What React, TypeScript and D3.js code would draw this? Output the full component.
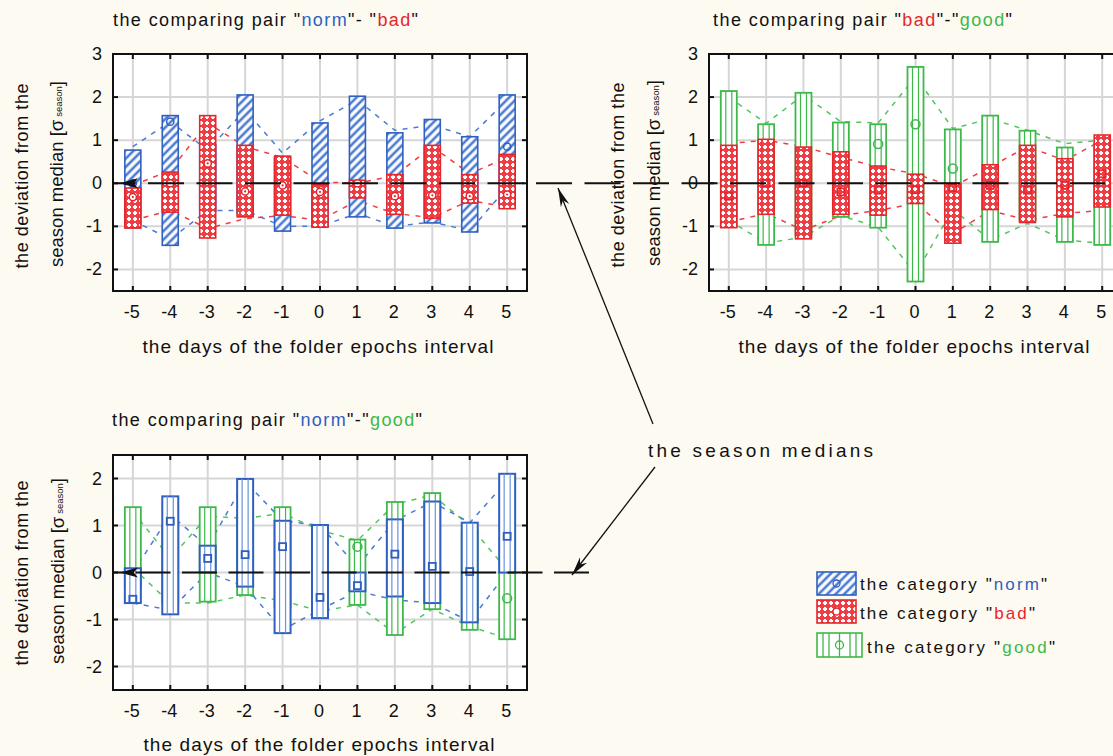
import React from "react";
import * as d3 from "d3";

// ---------- data ----------
const DAYS = [-5, -4, -3, -2, -1, 0, 1, 2, 3, 4, 5];
const X_TICK_LABELS = ["-5", "-4", "-3", "-2", "-1", "0", "1", "2", "3", "4", "5"];
const Y_TICKS_TOP = [-2, -1, 0, 1, 2, 3];
const Y_TICKS_BOTTOM = [-2, -1, 0, 1, 2];

// Panel 1: "norm" - "bad"
const norm1Hi = [0.77, 1.57, 0.9, 2.05, 0.6, 1.4, 2.02, 1.17, 1.48, 1.08, 2.05];
const norm1Lo = [-0.95, -1.44, -0.65, -0.7, -1.11, -1.0, -0.78, -1.04, -0.92, -1.13, -0.5];
const norm1Med = [0.0, 1.43, 0.2, 0.5, 0.2, -0.3, -0.1, -0.2, -0.3, -0.2, 0.85];
const norm1Up = [0.85, 1.43, 0.77, 1.7, 0.7, 1.45, 1.93, 1.23, 1.35, 1.08, 1.93];
const norm1Dn = [-0.86, -1.3, -0.63, -0.63, -1.0, -1.0, -0.7, -1.0, -0.9, -1.1, -0.1];

const bad1Hi = [-0.11, 0.26, 1.57, 0.88, 0.63, -0.03, 0.07, 0.2, 0.88, 0.2, 0.67];
const bad1Lo = [-1.04, -0.67, -1.27, -0.78, -0.74, -1.02, -0.34, -0.72, -0.81, -0.46, -0.59];
const bad1Med = [-0.32, 0.0, 0.46, -0.19, -0.05, -0.2, 0.0, -0.3, -0.28, -0.3, -0.26];
const bad1Up = [-0.05, 0.3, 1.4, 0.85, 0.6, 0.03, 0.0, 0.18, 0.85, 0.22, 0.6];
const bad1Dn = [-0.86, -0.63, -1.05, -0.82, -0.75, -0.86, -0.4, -0.7, -0.8, -0.4, -0.55];

// Panel 2: "bad" - "good"
const good2Hi = [2.14, 1.37, 2.1, 1.41, 1.37, 2.7, 1.25, 1.57, 1.22, 0.83, 0.9];
const good2Lo = [-1.0, -1.43, -1.2, -0.78, -1.03, -2.28, -0.7, -1.36, -0.85, -1.36, -1.43];
const good2Med = [0.3, 0.2, 0.5, 0.3, 0.91, 1.37, 0.34, 0.1, 0.2, -0.2, -0.3];
const good2Up = [2.0, 1.39, 2.05, 1.43, 1.4, 2.47, 1.27, 1.5, 1.23, 0.92, 1.0];
const good2Dn = [-0.86, -1.39, -1.25, -0.75, -1.02, -2.1, -0.6, -1.32, -0.93, -1.32, -1.39];

const bad2Hi = [0.88, 1.02, 0.84, 0.73, 0.4, 0.21, 0.0, 0.43, 0.88, 0.57, 1.12];
const bad2Lo = [-1.03, -0.72, -1.29, -0.72, -0.74, -0.47, -1.39, -0.61, -0.91, -0.78, -0.55];
const bad2Med = [-0.3, 0.0, 0.0, -0.2, -0.16, -0.15, -0.1, -0.05, -0.16, -0.05, 0.22];
const bad2Up = [0.92, 1.0, 0.85, 0.6, 0.38, 0.22, -0.08, 0.38, 0.85, 0.53, 1.0];
const bad2Dn = [-0.9, -0.7, -1.09, -0.75, -0.63, -0.47, -1.17, -0.63, -0.86, -0.7, -0.63];

// Panel 3: "norm" - "good"
const good3Hi = [1.39, 1.0, 1.39, 1.2, 1.39, 0.8, 0.7, 1.5, 1.69, 0.9, 0.0];
const good3Lo = [-0.3, -0.65, -0.62, -0.48, -0.75, -0.8, -0.69, -1.33, -0.78, -1.22, -1.42];
const good3Med = [-0.1, 0.3, 0.3, 0.6, 0.7, 0.0, 0.55, 0.2, 0.2, -0.2, -0.55];
const good3Up = [1.3, 0.3, 1.2, 1.15, 1.26, 0.9, 0.68, 1.45, 1.65, 1.0, 0.05];
const good3Dn = [0.1, -0.65, -0.65, -0.48, -0.6, -0.82, -0.69, -1.3, -0.78, -1.15, -1.4];

const norm3Hi = [0.09, 1.62, 0.57, 1.99, 1.1, 1.01, 0.0, 1.13, 1.51, 1.06, 2.1];
const norm3Lo = [-0.65, -0.89, 0.0, -0.3, -1.29, -0.97, -0.4, -0.51, -0.65, -1.06, 0.0];
const norm3Med = [-0.57, 1.09, 0.3, 0.38, 0.55, -0.53, -0.28, 0.39, 0.13, 0.02, 0.77];
const norm3Up = [0.0, 1.23, 0.55, 1.94, 1.1, 1.0, 0.13, 1.1, 1.5, 1.06, 1.95];
const norm3Dn = [-0.65, -0.8, 0.0, -0.3, -1.22, -0.79, -0.4, -0.58, -0.65, -1.04, 0.0];

// ---------- style ----------
const FONT = "'Liberation Sans', Arial, Helvetica, sans-serif";
const BG = "#fdfaf1";
const BLUE = "#2f5fbf";
const BLUE_L = "#4b7bd2";
const RED = "#e5262e";
const RED_L = "#ef3d44";
const GREEN = "#3db84b";
const GREEN_L = "#55c45e";
const GRID = "#d6d6d6";

type Series = {
  hi: number[]; lo: number[]; med: number[]; up: number[]; dn: number[];
  color: string; lineColor: string; fill: string; inner?: string | null;
  marker: "circle" | "square" | "ring" | "dot"; sw: number;
};

type PanelProps = {
  L: number; R: number; T: number; B: number;
  yDomain: [number, number]; yTicks: number[];
  series: Series[];
  title: React.ReactNode; titleX: number; titleY: number; titleW: number;
  xTitleX: number; xTitleY: number;
  yt1X: number; yt2X: number; ytY: number;
};

const xDomain: [number, number] = [-5.53, 5.53];

function Marker({ s, cx, cy }: { s: Series; cx: number; cy: number }) {
  if (s.marker === "square")
    return <rect x={cx - 3.5} y={cy - 3.5} width={7} height={7} fill="none" stroke={s.color} strokeWidth={1.8} />;
  if (s.marker === "ring")
    return <circle cx={cx} cy={cy} r={4.5} fill="none" stroke={s.color} strokeWidth={1.5} />;
  if (s.marker === "dot")
    return (
      <g>
        <circle cx={cx} cy={cy} r={3.6} fill="#fff" stroke={s.color} strokeWidth={1.5} />
        <circle cx={cx} cy={cy} r={1.1} fill={s.color} />
      </g>
    );
  return <circle cx={cx} cy={cy} r={3.6} fill="none" stroke={s.color} strokeWidth={1.5} />;
}

function Panel(p: PanelProps) {
  const x = d3.scaleLinear().domain(xDomain).range([p.L, p.R]);
  const y = d3.scaleLinear().domain(p.yDomain).range([p.B, p.T]);
  const BW = 16;
  const lineGen = d3
    .line<number>()
    .x((_, i) => x(DAYS[i]))
    .y((v) => y(v));
  return (
    <g>
      <rect x={p.L} y={p.T} width={p.R - p.L} height={p.B - p.T} fill="#fff" />
      {DAYS.map((d) => (
        <line key={"gx" + d} x1={x(d)} x2={x(d)} y1={p.T} y2={p.B} stroke={GRID} strokeWidth={2} />
      ))}
      {p.yTicks.map((t) => (
        <line key={"gy" + t} x1={p.L} x2={p.R} y1={y(t)} y2={y(t)} stroke={GRID} strokeWidth={2} />
      ))}
      {p.series.map((s, si) => (
        <g key={"ln" + si} fill="none" stroke={s.lineColor} strokeWidth={1.5} strokeDasharray="5,6">
          <path d={lineGen(s.up) as string} />
          <path d={lineGen(s.dn) as string} />
        </g>
      ))}
      {p.series.map((s, si) => (
        <g key={"bx" + si}>
          {DAYS.map((d, i) => {
            const cx = x(d);
            const top = y(s.hi[i]);
            const bot = y(s.lo[i]);
            return (
              <g key={i}>
                <rect x={cx - BW / 2} y={top} width={BW} height={Math.max(0.5, bot - top)} fill={s.fill} stroke={s.color} strokeWidth={s.sw} />
                {s.inner
                  ? [5, 11].map((o) => (
                      <line key={o} x1={cx - BW / 2 + o} x2={cx - BW / 2 + o} y1={top} y2={bot} stroke={s.inner as string} strokeWidth={1.2} />
                    ))
                  : null}
                <Marker s={s} cx={cx} cy={y(s.med[i])} />
              </g>
            );
          })}
        </g>
      ))}
      <rect x={p.L} y={p.T} width={p.R - p.L} height={p.B - p.T} fill="none" stroke="#111" strokeWidth={2} />
      {DAYS.map((d) => (
        <g key={"tx" + d} stroke="#111" strokeWidth={2}>
          <line x1={x(d)} x2={x(d)} y1={p.T} y2={p.T + 5} />
          <line x1={x(d)} x2={x(d)} y1={p.B} y2={p.B - 5} />
        </g>
      ))}
      {p.yTicks.map((t) => (
        <g key={"ty" + t} stroke="#111" strokeWidth={2}>
          <line x1={p.L} x2={p.L + 5} y1={y(t)} y2={y(t)} />
          <line x1={p.R} x2={p.R - 5} y1={y(t)} y2={y(t)} />
        </g>
      ))}
      {DAYS.map((d, i) => (
        <text key={"lx" + d} x={x(d) - 1} y={p.B + 27} textAnchor="middle" fontSize={18} fill="#111">
          {X_TICK_LABELS[i]}
        </text>
      ))}
      {p.yTicks.map((t) => (
        <text key={"ly" + t} x={p.L - 11} y={y(t) + 6} textAnchor="end" fontSize={18} fill="#111">
          {String(t)}
        </text>
      ))}
      <text x={p.titleX} y={p.titleY} fontSize={18} fill="#111" textLength={p.titleW} lengthAdjust="spacing">
        {p.title}
      </text>
      <text x={p.xTitleX} y={p.xTitleY} fontSize={19} fill="#111" textAnchor="middle" textLength={351} lengthAdjust="spacing">
        {"the days of the folder epochs interval"}
      </text>
      <text transform={`translate(${p.yt1X},${p.ytY}) rotate(-90)`} textAnchor="middle" fontSize={18} fill="#111" textLength={185} lengthAdjust="spacing">
        {"the deviation from the"}
      </text>
      <text transform={`translate(${p.yt2X},${p.ytY - 2}) rotate(-90)`} textAnchor="middle" fontSize={18.5} fill="#111">
        {"season median [σ"}
        <tspan fontSize={9.5} dx={3} dy={-1}>{"season"}</tspan>
        <tspan dy={1}>{"]"}</tspan>
      </text>
    </g>
  );
}

function arrowPath(x1: number, y1: number, x2: number, y2: number, len = 19, hw = 4.5) {
  const dx = x2 - x1, dy = y2 - y1;
  const l = Math.hypot(dx, dy);
  const ux = dx / l, uy = dy / l, px = -uy, py = ux;
  const bx = x2 - ux * len, by = y2 - uy * len;
  const nx = x2 - ux * len * 0.7, ny = y2 - uy * len * 0.7;
  return `M${x2},${y2}L${bx + px * hw},${by + py * hw}L${nx},${ny}L${bx - px * hw},${by - py * hw}Z`;
}

export default function App() {
  const P1 = { L: 113, R: 527, T: 54, B: 291 };
  const P2 = { L: 709, R: 1122, T: 54, B: 291 };
  const P3 = { L: 113, R: 527, T: 455, B: 690 };
  const yTop = d3.scaleLinear().domain([-2.5, 3]).range([P1.B, P1.T]);
  const yBot = d3.scaleLinear().domain([-2.5, 2.5]).range([P3.B, P3.T]);
  const xTop = d3.scaleLinear().domain(xDomain).range([P1.L, P1.R]);
  const xBot = d3.scaleLinear().domain(xDomain).range([P3.L, P3.R]);

  const sNorm1: Series = { hi: norm1Hi, lo: norm1Lo, med: norm1Med, up: norm1Up, dn: norm1Dn, color: BLUE, lineColor: BLUE_L, fill: "url(#hatchBlue)", marker: "circle", sw: 1.6 };
  const sBad1: Series = { hi: bad1Hi, lo: bad1Lo, med: bad1Med, up: bad1Up, dn: bad1Dn, color: RED, lineColor: RED_L, fill: "url(#checkRed)", marker: "dot", sw: 1.6 };
  const sGood2: Series = { hi: good2Hi, lo: good2Lo, med: good2Med, up: good2Up, dn: good2Dn, color: GREEN, lineColor: GREEN_L, fill: "#fff", inner: GREEN, marker: "ring", sw: 1.8 };
  const sBad2: Series = { hi: bad2Hi, lo: bad2Lo, med: bad2Med, up: bad2Up, dn: bad2Dn, color: RED, lineColor: RED_L, fill: "url(#checkRed)", marker: "square", sw: 1.6 };
  const sGood3: Series = { hi: good3Hi, lo: good3Lo, med: good3Med, up: good3Up, dn: good3Dn, color: GREEN, lineColor: GREEN_L, fill: "#fff", inner: GREEN, marker: "ring", sw: 1.8 };
  const sNorm3: Series = { hi: norm3Hi, lo: norm3Lo, med: norm3Med, up: norm3Up, dn: norm3Dn, color: BLUE, lineColor: BLUE_L, fill: "#fff", inner: "#6a93dc", marker: "square", sw: 2 };

  const tip = (xs: number, ys: number) =>
    `M${xs - 13},${ys}L${xs + 5},${ys - 5}L${xs + 1},${ys}L${xs + 5},${ys + 5}Z`;

  return (
    <svg width={1113} height={756} style={{ position: "absolute", left: 0, top: 0, fontFamily: FONT }}>
      <defs>
        <pattern id="hatchBlue" patternUnits="userSpaceOnUse" width={6} height={6} patternTransform="rotate(45)">
          <rect width={6} height={6} fill="#fff" />
          <line x1={3} y1={0} x2={3} y2={6} stroke={BLUE_L} strokeWidth={2.6} />
        </pattern>
        <pattern id="checkRed" patternUnits="userSpaceOnUse" width={6} height={6}>
          <rect width={6} height={6} fill={RED_L} />
          <rect x={2} y={1} width={2} height={4} fill="#fff" />
          <rect x={1} y={2} width={4} height={2} fill="#fff" />
        </pattern>
      </defs>
      <rect width={1113} height={756} fill={BG} />

      <Panel
        {...P1}
        yDomain={[-2.5, 3]}
        yTicks={Y_TICKS_TOP}
        series={[sNorm1, sBad1]}
        title={[
          'the comparing pair "',
          <tspan key="a" fill={BLUE}>norm</tspan>,
          '"- "',
          <tspan key="b" fill={RED}>bad</tspan>,
          '"',
        ]}
        titleX={113} titleY={26} titleW={305}
        xTitleX={318} xTitleY={353}
        yt1X={28} yt2X={63} ytY={176}
      />
      <Panel
        {...P2}
        yDomain={[-2.5, 3]}
        yTicks={Y_TICKS_TOP}
        series={[sGood2, sBad2]}
        title={[
          'the comparing pair "',
          <tspan key="a" fill={RED}>bad</tspan>,
          '"-"',
          <tspan key="b" fill={GREEN}>good</tspan>,
          '"',
        ]}
        titleX={713} titleY={26} titleW={299}
        xTitleX={914} xTitleY={353}
        yt1X={624} yt2X={660} ytY={175}
      />
      <Panel
        {...P3}
        yDomain={[-2.5, 2.5]}
        yTicks={Y_TICKS_BOTTOM}
        series={[sGood3, sNorm3]}
        title={[
          'the comparing pair "',
          <tspan key="a" fill={BLUE}>norm</tspan>,
          '"-"',
          <tspan key="b" fill={GREEN}>good</tspan>,
          '"',
        ]}
        titleX={112} titleY={426} titleW={310}
        xTitleX={319} xTitleY={751}
        yt1X={28} yt2X={64} ytY={573}
      />

      {/* season medians (zero lines) */}
      <line x1={P1.L} x2={1113} y1={yTop(0)} y2={yTop(0)} stroke="#111" strokeWidth={2} strokeDasharray="36,12.5" strokeDashoffset={13.5} />
      <line x1={P3.L} x2={590} y1={yBot(0)} y2={yBot(0)} stroke="#111" strokeWidth={2} strokeDasharray="35,11.5" strokeDashoffset={24} />
      <path d={tip(xTop(-5), yTop(0))} fill="#111" />
      <path d={tip(xBot(-5), yBot(0))} fill="#111" />

      {/* annotation */}
      <text x={648} y={457} fontSize={19} fill="#111" textLength={225} lengthAdjust="spacing">
        {"the season medians"}
      </text>
      <line x1={653} y1={424} x2={558} y2={188} stroke="#111" strokeWidth={1.3} />
      <path d={arrowPath(653, 424, 558, 188)} fill="#111" />
      <line x1={655} y1={467} x2={572} y2={575} stroke="#111" strokeWidth={1.3} />
      <path d={arrowPath(655, 467, 572, 575)} fill="#111" />

      {/* legend */}
      <g>
        <rect x={817} y={572} width={39} height={23} fill="url(#hatchBlue)" stroke={BLUE} strokeWidth={1.6} />
        <circle cx={836.5} cy={583.5} r={3.5} fill="none" stroke={BLUE} strokeWidth={1.3} />
        <text x={860} y={590} fontSize={17} fill="#111" textLength={187} lengthAdjust="spacing">
          {'the category "'}
          <tspan fill={BLUE}>norm</tspan>
          {'"'}
        </text>
        <rect x={817} y={600} width={39} height={23} fill="url(#checkRed)" stroke={RED} strokeWidth={1.6} />
        <circle cx={836.5} cy={611.5} r={3.5} fill="#fff" stroke={RED} strokeWidth={1.3} />
        <text x={860} y={619} fontSize={17} fill="#111" textLength={175} lengthAdjust="spacing">
          {'the category "'}
          <tspan fill={RED}>bad</tspan>
          {'"'}
        </text>
        <rect x={817} y={633} width={45} height={24} fill="#fff" stroke={GREEN} strokeWidth={1.6} />
        {[6, 12, 22.5, 33, 39].map((o) => (
          <line key={o} x1={817 + o} x2={817 + o} y1={633} y2={657} stroke={GREEN} strokeWidth={1.3} />
        ))}
        <circle cx={839.5} cy={645} r={4} fill="#fff" stroke={GREEN} strokeWidth={1.3} />
        <line x1={839.5} x2={839.5} y1={641} y2={649} stroke={GREEN} strokeWidth={1.1} />
        <text x={867} y={653} fontSize={17} fill="#111" textLength={188} lengthAdjust="spacing">
          {'the category "'}
          <tspan fill={GREEN}>good</tspan>
          {'"'}
        </text>
      </g>
    </svg>
  );
}
